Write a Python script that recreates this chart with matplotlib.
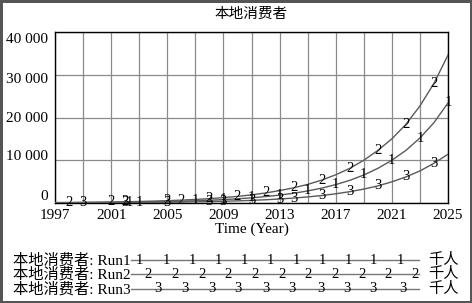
import matplotlib
matplotlib.use("Agg")
import matplotlib.pyplot as plt
import matplotlib.transforms as mtransforms
from matplotlib.lines import Line2D
from matplotlib.ticker import FuncFormatter
import numpy as np

plt.rcParams['font.family'] = ['Liberation Serif', 'Noto Sans CJK SC', 'DejaVu Sans']

title = "本地消费者"
xlabel = "Time (Year)"
unit = "千人"
run_names = ["Run1", "Run2", "Run3"]

years = list(range(1997, 2026))
run1 = [63, 78, 96, 119, 147, 181, 224, 277, 340, 420, 520, 645, 795, 980, 1210,
        1500, 1850, 2280, 2820, 3480, 4300, 5300, 6550, 8100, 10000, 12300, 15200,
        18800, 23400]
run2 = [100, 125, 155, 190, 235, 290, 360, 440, 545, 670, 830, 1020, 1260, 1550,
        1900, 2350, 2900, 3550, 4350, 5350, 6600, 8100, 10000, 12300, 15000, 18400,
        22700, 28000, 34600]
run3 = [33, 41, 51, 62, 77, 95, 117, 144, 177, 218, 268, 330, 405, 500, 615, 760,
        935, 1150, 1420, 1750, 2150, 2650, 3250, 4000, 4950, 6100, 7500, 9300, 11400]

marker_years = [
    [2002.3, 2003, 2007, 2009, 2011, 2013, 2015, 2017, 2019, 2021, 2023, 2025],
    [1998, 2001, 2002, 2005, 2006, 2008, 2010, 2012, 2014, 2016, 2018, 2020, 2022, 2024],
    [1999, 2002, 2005, 2008, 2009, 2011, 2013, 2014, 2016, 2018, 2020, 2022, 2024],
]

xticks = [1997, 2001, 2005, 2009, 2013, 2017, 2021, 2025]
yticks = [0, 10000, 20000, 30000, 40000]

W, H = 472, 303
fig = plt.figure(figsize=(W / 100, H / 100), dpi=100)
fig.patch.set_facecolor("white")
fig.patch.set_edgecolor("#555555")
fig.patch.set_linewidth(2.5)

ax = fig.add_axes([55 / W, 1 - 203 / H, (448 - 55) / W, (203 - 32) / H])
ax.set_xlim(1997, 2025)
ax.set_ylim(0, 40000)
ax.set_xticks(xticks)
ax.set_xticks(np.arange(1997, 2026, 2), minor=True)
ax.set_yticks(yticks)
ax.yaxis.set_major_formatter(FuncFormatter(lambda v, p: f"{int(v):,}".replace(",", " ")))
ax.grid(True, which="both", axis="x", color="#8a8a8a", lw=0.9)
ax.grid(True, which="major", axis="y", color="#8a8a8a", lw=0.9)
ax.tick_params(which="both", length=0, labelsize=11, colors="black")
ax.tick_params(axis="x", pad=4)
ax.tick_params(axis="y", pad=5)
for s in ax.spines.values():
    s.set_color("black")
    s.set_linewidth(1.0)

# Vensim-style uneven y label placement
offs = {0: -8, 10000: -5, 20000: 0, 30000: 3, 40000: 6}
for lab, v in zip(ax.get_yticklabels(), yticks):
    lab.set_transform(lab.get_transform() +
                      mtransforms.ScaledTranslation(0, -offs[v] / 100, fig.dpi_scale_trans))

ax.set_xlabel(xlabel, fontsize=11, labelpad=1)
fig.text(251 / W, 1 - 14 / H, title, ha="center", va="center", fontsize=10.5)

series = [run1, run2, run3]
line_color = "#5a5a5a"
for i, vals in enumerate(series):
    ax.plot(years, vals, color=line_color, lw=1.0, zorder=3)
    for my in marker_years[i]:
        v = np.interp(my, years, vals)
        ax.text(my, v, str(i + 1), ha="center", va="center", fontsize=10.5,
                color="black", zorder=4)

# Legend rows
rows_y = [260, 274, 289]
legend_marks = [
    [139, 166, 192, 218, 244, 270, 296, 322, 348, 373, 400],
    [148, 175, 202, 228, 255, 282, 308, 335, 362, 388, 415],
    [158, 185, 212, 238, 266, 292, 321, 347, 373, 403],
]
for i, ry in enumerate(rows_y):
    yf = 1 - ry / H
    fig.text(131 / W, yf, f"{title}: {run_names[i]}", ha="right", va="center", fontsize=11)
    fig.add_artist(Line2D([131 / W, 419 / W], [yf, yf], color="#777777", lw=1.0))
    for mx in legend_marks[i]:
        fig.text(mx / W, yf, str(i + 1), ha="center", va="center", fontsize=10.5)
    fig.text(443 / W, yf, unit, ha="center", va="center", fontsize=11)

fig.savefig("out.png", dpi=100, facecolor=fig.get_facecolor(), edgecolor=fig.get_edgecolor())
